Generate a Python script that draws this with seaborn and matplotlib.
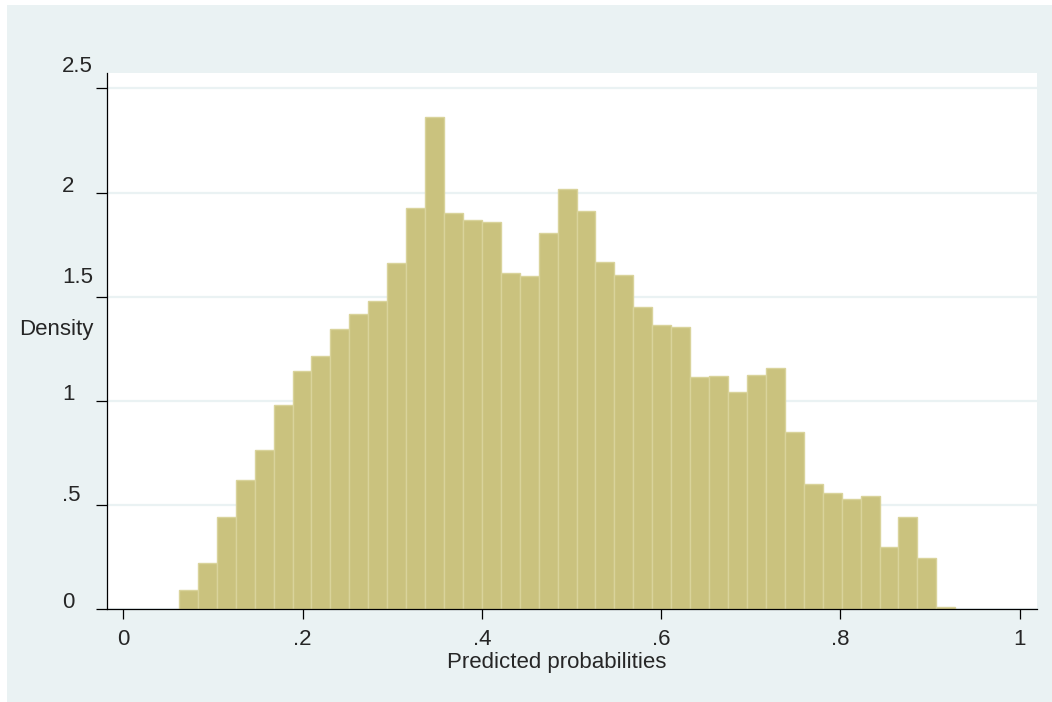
import numpy as np
import pandas as pd
import matplotlib
matplotlib.use("Agg")
import matplotlib.pyplot as plt
import matplotlib.transforms as mtransforms
from matplotlib.patches import Rectangle
import seaborn as sns

# -------------------------------
# data
# -------------------------------
bin_lo = 0.0621
bin_hi = 0.9282
density = [0.091, 0.220, 0.444, 0.618, 0.763, 0.982, 1.142, 1.214, 1.344, 1.419,
           1.477, 1.664, 1.925, 2.361, 1.904, 1.869, 1.859, 1.616, 1.601, 1.808,
           2.018, 1.911, 1.669, 1.603, 1.452, 1.366, 1.353, 1.114, 1.121, 1.043,
           1.126, 1.159, 0.848, 0.599, 0.556, 0.530, 0.543, 0.300, 0.444, 0.247,
           0.010]
x_ticks = [0, 0.2, 0.4, 0.6, 0.8, 1]
x_labels = ["0", ".2", ".4", ".6", ".8", "1"]
y_ticks = [0, 0.5, 1, 1.5, 2, 2.5]
y_labels = ["0", ".5", "1", "1.5", "2", "2.5"]
# stata puts some y labels a bit higher than the tick (pixels)
y_label_shift = [1, 4, 1, 14, 1, 16]

BG = "#EAF2F3"
BAR = "#CAC27E"
BAR_EDGE = "#D9D39B"

sns.set_style("ticks")
plt.rcParams["font.family"] = ["Liberation Sans", "DejaVu Sans"]
FS = 16

edges = np.linspace(bin_lo, bin_hi, len(density) + 1)
df = pd.DataFrame({"p": (edges[:-1] + edges[1:]) / 2, "dens": density})

fig = plt.figure(figsize=(10.52, 7.02), dpi=100, facecolor=BG)
# thin white strip on the left and top edge of the graph region
fig.patches.append(Rectangle((0, 0), 7 / 1052, 1, transform=fig.transFigure,
                             facecolor="white", edgecolor="none", zorder=-10))
fig.patches.append(Rectangle((0, 1 - 5 / 702), 1, 5 / 702, transform=fig.transFigure,
                             facecolor="white", edgecolor="none", zorder=-10))
ax = fig.add_axes([0.1014, 0.1325, 0.8840, 0.7631])
ax.set_facecolor("white")

sns.histplot(data=df, x="p", weights="dens", bins=list(edges), stat="count",
             color=BAR, edgecolor=BAR_EDGE, linewidth=1.0, alpha=1, ax=ax)

ax.set_xlim(-0.0185, 1.019)
ax.set_ylim(0, 2.573)
ax.set_axisbelow(True)
ax.yaxis.grid(True, color=BG, linewidth=1.6)
ax.xaxis.grid(False)

for s in ["top", "right"]:
    ax.spines[s].set_visible(False)
for s in ["left", "bottom"]:
    ax.spines[s].set_color("black")
    ax.spines[s].set_linewidth(0.9)

ax.set_xticks(x_ticks)
ax.set_xticklabels(x_labels, fontsize=FS)
ax.set_yticks(y_ticks)
ax.set_yticklabels(y_labels, fontsize=FS)
ax.tick_params(axis="x", direction="out", length=7.2, width=0.9, color="black", pad=7)
ax.tick_params(axis="y", direction="out", length=7.9, width=0.9, color="black", pad=24.3)

for lab, dy in zip(ax.get_yticklabels(), y_label_shift):
    lab.set_ha("left")
    lab.set_va("baseline")
    lab.set_transform(lab.get_transform() +
                      mtransforms.ScaledTranslation(0, dy / 100, fig.dpi_scale_trans))

ax.set_xlabel("Predicted probabilities", fontsize=FS, va="baseline")
ax.xaxis.set_label_coords(0.4844, -0.1107)
ax.set_ylabel("Density", fontsize=FS, rotation=0, ha="left", va="baseline")
ax.yaxis.set_label_coords(-0.0943, 0.5115)

plt.savefig("out.png", dpi=100, facecolor=BG)
plt.close()
